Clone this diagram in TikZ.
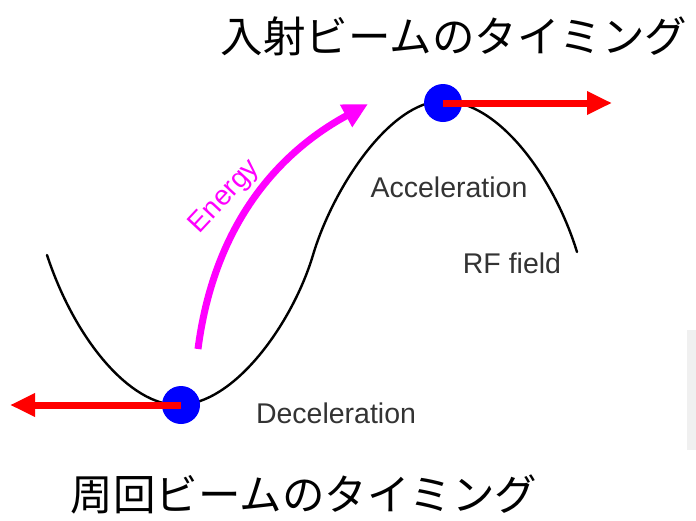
\documentclass[tikz,border=0pt]{standalone}
\usepackage{fontspec}
\setmainfont{Liberation Sans}
\newfontfamily\jpfont{Noto Sans CJK JP}
\usetikzlibrary{arrows.meta}
\definecolor{labgray}{HTML}{333333}
\definecolor{magentaRGB}{RGB}{255,0,255}
\definecolor{pureblue}{RGB}{0,0,255}
\definecolor{purered}{RGB}{255,0,0}
\begin{document}
\begin{tikzpicture}[x=1pt,y=-1pt,
  dot/.style={circle,fill=pureblue,minimum size=38pt,inner sep=0pt},
  push/.style={purered,line width=7pt,-{Triangle[length=25pt,width=22pt]}},
  lab/.style={text=labgray,font=\fontsize{28.5}{30}\selectfont,inner sep=0pt},
  title/.style={font=\jpfont\fontsize{42.5}{46}\selectfont,inner sep=0pt}]
\useasboundingbox (0,0) rectangle (696,520);
\fill[black!6] (687,330) rectangle (696,450);
% RF field curve
\coordinate (c0) at (47,255);
\coordinate (cmin) at (178,405);
\coordinate (cinf) at (313,255);
\coordinate (cmax) at (443,101);
\coordinate (c1) at (577,252);
\draw[line width=2.4pt,line cap=round]
  (c0) .. controls (75,340) and (130,405) .. (cmin)
       .. controls (235,405) and (293,322) .. (cinf)
       .. controls (333,188) and (390,101) .. (cmax)
       .. controls (500,101) and (555,180) .. (c1);
% bunches
\node[dot] (low) at (181,405) {};
\node[dot] (high) at (443,103) {};
\coordinate (lowtip) at (10,405);
\coordinate (hightip) at (612,103);
\draw[push] (low.center) -- (lowtip);
\draw[push] (high.center) -- (hightip);
% energy arrow
\coordinate (estart) at (198,349);
\coordinate (etip) at (368,104);
\draw[magentaRGB,line width=7pt,-{Triangle[length=25pt,width=24pt]}]
  (estart) .. controls (212,240) and (265,160) .. (etip);
\node[text=magentaRGB,font=\fontsize{28}{30}\selectfont,rotate=47,inner sep=0pt] (energy) at (225,197) {Energy};
% labels
\node[lab] (acc) at (449,187) {Acceleration};
\node[lab] (rf) at (512,263) {RF field};
\node[lab] (dec) at (336,413) {Deceleration};
\node[title] (t1) at (454,36) {入射ビームのタイミング};
\node[title] (t2) at (304,494) {周回ビームのタイミング};
\end{tikzpicture}
\end{document}
